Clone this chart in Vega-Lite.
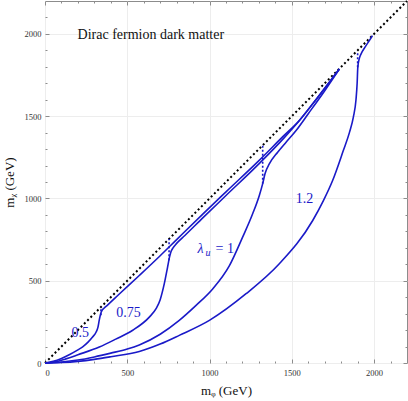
{
  "$schema": "https://vega.github.io/schema/vega-lite/v6.json",
  "width": 362,
  "height": 362,
  "autosize": {"type": "none"},
  "padding": {"left": 45, "top": 1, "right": 1, "bottom": 38},
  "config": {
    "font": "Liberation Serif",
    "view": {"stroke": "#8c8c8c", "strokeWidth": 1},
    "axis": {
      "domain": false,
      "tickColor": "#8c8c8c",
      "tickWidth": 1,
      "labelFont": "Liberation Serif",
      "labelFontSize": 8.5,
      "labelColor": "#333333",
      "titleFont": "Liberation Serif",
      "titleFontWeight": "normal",
      "titleFontSize": 13,
      "titleColor": "#111111",
      "gridColor": "#ededed"
    }
  },
  "datasets": {
    "diag": [{"x": 0, "y": 0}, {"x": 2200, "y": 2200}],
    "curves": [
      {"lam": "0.5", "o": 1, "x": 0, "y": 0},
      {"lam": "0.5", "o": 2, "x": 50, "y": 10},
      {"lam": "0.5", "o": 3, "x": 100, "y": 28},
      {"lam": "0.5", "o": 4, "x": 150, "y": 52},
      {"lam": "0.5", "o": 5, "x": 200, "y": 80},
      {"lam": "0.5", "o": 6, "x": 229, "y": 98},
      {"lam": "0.5", "o": 7, "x": 260, "y": 125},
      {"lam": "0.5", "o": 8, "x": 289, "y": 158},
      {"lam": "0.5", "o": 9, "x": 310, "y": 187},
      {"lam": "0.5", "o": 10, "x": 322, "y": 218},
      {"lam": "0.5", "o": 11, "x": 330, "y": 262},
      {"lam": "0.5", "o": 12, "x": 338, "y": 298},
      {"lam": "0.5", "o": 13, "x": 346, "y": 318},
      {"lam": "0.5", "o": 14, "x": 360, "y": 334},
      {"lam": "0.5", "o": 15, "x": 380, "y": 352},
      {"lam": "0.5", "o": 16, "x": 450, "y": 418},
      {"lam": "0.5", "o": 17, "x": 573, "y": 532},
      {"lam": "0.5", "o": 18, "x": 700, "y": 652},
      {"lam": "0.5", "o": 19, "x": 800, "y": 750},
      {"lam": "0.5", "o": 20, "x": 962, "y": 908},
      {"lam": "0.5", "o": 21, "x": 1100, "y": 1040},
      {"lam": "0.5", "o": 22, "x": 1300, "y": 1230},
      {"lam": "0.5", "o": 23, "x": 1450, "y": 1380},
      {"lam": "0.5", "o": 24, "x": 1546, "y": 1474},
      {"lam": "0.5", "o": 25, "x": 1650, "y": 1605},
      {"lam": "0.5", "o": 26, "x": 1789, "y": 1787},
      {"lam": "0.75", "o": 1, "x": 0, "y": 0},
      {"lam": "0.75", "o": 2, "x": 50, "y": 5},
      {"lam": "0.75", "o": 3, "x": 127, "y": 25},
      {"lam": "0.75", "o": 4, "x": 200, "y": 50},
      {"lam": "0.75", "o": 5, "x": 330, "y": 97},
      {"lam": "0.75", "o": 6, "x": 430, "y": 145},
      {"lam": "0.75", "o": 7, "x": 533, "y": 199},
      {"lam": "0.75", "o": 8, "x": 634, "y": 279},
      {"lam": "0.75", "o": 9, "x": 675, "y": 330},
      {"lam": "0.75", "o": 10, "x": 700, "y": 385},
      {"lam": "0.75", "o": 11, "x": 725, "y": 482},
      {"lam": "0.75", "o": 12, "x": 745, "y": 583},
      {"lam": "0.75", "o": 13, "x": 756, "y": 640},
      {"lam": "0.75", "o": 14, "x": 764, "y": 672},
      {"lam": "0.75", "o": 15, "x": 777, "y": 698},
      {"lam": "0.75", "o": 16, "x": 800, "y": 727},
      {"lam": "0.75", "o": 17, "x": 850, "y": 775},
      {"lam": "0.75", "o": 18, "x": 962, "y": 885},
      {"lam": "0.75", "o": 19, "x": 1100, "y": 1018},
      {"lam": "0.75", "o": 20, "x": 1300, "y": 1210},
      {"lam": "0.75", "o": 21, "x": 1450, "y": 1365},
      {"lam": "0.75", "o": 22, "x": 1546, "y": 1474},
      {"lam": "0.75", "o": 23, "x": 1650, "y": 1605},
      {"lam": "0.75", "o": 24, "x": 1789, "y": 1787},
      {"lam": "1", "o": 1, "x": 0, "y": 0},
      {"lam": "1", "o": 2, "x": 100, "y": 6},
      {"lam": "1", "o": 3, "x": 200, "y": 18},
      {"lam": "1", "o": 4, "x": 300, "y": 37},
      {"lam": "1", "o": 5, "x": 400, "y": 60},
      {"lam": "1", "o": 6, "x": 500, "y": 85},
      {"lam": "1", "o": 7, "x": 573, "y": 110},
      {"lam": "1", "o": 8, "x": 700, "y": 175},
      {"lam": "1", "o": 9, "x": 816, "y": 259},
      {"lam": "1", "o": 10, "x": 918, "y": 350},
      {"lam": "1", "o": 11, "x": 1019, "y": 450},
      {"lam": "1", "o": 12, "x": 1120, "y": 590},
      {"lam": "1", "o": 13, "x": 1201, "y": 765},
      {"lam": "1", "o": 14, "x": 1262, "y": 907},
      {"lam": "1", "o": 15, "x": 1303, "y": 1020},
      {"lam": "1", "o": 16, "x": 1323, "y": 1090},
      {"lam": "1", "o": 17, "x": 1337, "y": 1150},
      {"lam": "1", "o": 18, "x": 1364, "y": 1211},
      {"lam": "1", "o": 19, "x": 1414, "y": 1281},
      {"lam": "1", "o": 20, "x": 1465, "y": 1342},
      {"lam": "1", "o": 21, "x": 1526, "y": 1413},
      {"lam": "1", "o": 22, "x": 1600, "y": 1515},
      {"lam": "1", "o": 23, "x": 1700, "y": 1655},
      {"lam": "1", "o": 24, "x": 1789, "y": 1787},
      {"lam": "1.2", "o": 1, "x": 0, "y": 0},
      {"lam": "1.2", "o": 2, "x": 100, "y": 3},
      {"lam": "1.2", "o": 3, "x": 200, "y": 10},
      {"lam": "1.2", "o": 4, "x": 300, "y": 22},
      {"lam": "1.2", "o": 5, "x": 400, "y": 38},
      {"lam": "1.2", "o": 6, "x": 573, "y": 70},
      {"lam": "1.2", "o": 7, "x": 700, "y": 115},
      {"lam": "1.2", "o": 8, "x": 816, "y": 168},
      {"lam": "1.2", "o": 9, "x": 999, "y": 259},
      {"lam": "1.2", "o": 10, "x": 1222, "y": 421},
      {"lam": "1.2", "o": 11, "x": 1424, "y": 603},
      {"lam": "1.2", "o": 12, "x": 1627, "y": 866},
      {"lam": "1.2", "o": 13, "x": 1692, "y": 987},
      {"lam": "1.2", "o": 14, "x": 1748, "y": 1109},
      {"lam": "1.2", "o": 15, "x": 1813, "y": 1291},
      {"lam": "1.2", "o": 16, "x": 1850, "y": 1400},
      {"lam": "1.2", "o": 17, "x": 1874, "y": 1494},
      {"lam": "1.2", "o": 18, "x": 1890, "y": 1600},
      {"lam": "1.2", "o": 19, "x": 1897, "y": 1700},
      {"lam": "1.2", "o": 20, "x": 1901, "y": 1797},
      {"lam": "1.2", "o": 21, "x": 1910, "y": 1850},
      {"lam": "1.2", "o": 22, "x": 1921, "y": 1879},
      {"lam": "1.2", "o": 23, "x": 1945, "y": 1920},
      {"lam": "1.2", "o": 24, "x": 1971, "y": 1959},
      {"lam": "1.2", "o": 25, "x": 1990, "y": 1990}
    ],
    "dashes": [
      {"lam": "0.5", "x": 340, "y": 290},
      {"lam": "0.5", "x": 340, "y": 340},
      {"lam": "0.75", "x": 754, "y": 625},
      {"lam": "0.75", "x": 754, "y": 754},
      {"lam": "1", "x": 1323, "y": 1090},
      {"lam": "1", "x": 1323, "y": 1323},
      {"lam": "1.2", "x": 1900, "y": 1797},
      {"lam": "1.2", "x": 1900, "y": 1888}
    ],
    "labels": [
      {"text": "0.5", "x": 214, "y": 183},
      {"text": "0.75", "x": 507, "y": 301},
      {"text": "1.2", "x": 1577, "y": 997}
    ],
    "lamlabel": [{"x": 927, "y": 690}],
    "title": [{"text": "Dirac fermion dark matter", "x": 198, "y": 1968}]
  },
  "layer": [
    {
      "data": {"name": "diag"},
      "mark": {"type": "line", "color": "black", "strokeWidth": 2, "strokeDash": [2, 2.6]},
      "encoding": {
        "x": {"field": "x", "type": "quantitative", "scale": {"domain": [0, 2200], "nice": false},
          "axis": {"orient": "bottom", "values": [0, 500, 1000, 1500, 2000], "format": "d", "tickSize": -4, "labelPadding": 9, "grid": true, "title": "mᵩ (GeV)", "titlePadding": 8}},
        "y": {"field": "y", "type": "quantitative", "scale": {"domain": [0, 2200], "nice": false},
          "axis": {"orient": "left", "values": [0, 500, 1000, 1500, 2000], "format": "d", "tickSize": -4, "labelPadding": 8, "grid": true, "title": "mᵪ (GeV)", "titlePadding": 8}}
      }
    },
    {
      "data": {"name": "curves"},
      "mark": {"type": "line", "color": "#1a1ac8", "strokeWidth": 1.6, "interpolate": "monotone"},
      "encoding": {
        "x": {"field": "x", "type": "quantitative", "scale": {"domain": [0, 2200], "nice": false},
          "axis": {"orient": "bottom", "values": [100, 200, 300, 400, 600, 700, 800, 900, 1100, 1200, 1300, 1400, 1600, 1700, 1800, 1900, 2100], "tickSize": -2, "labels": false, "grid": false, "title": null}},
        "y": {"field": "y", "type": "quantitative", "scale": {"domain": [0, 2200], "nice": false},
          "axis": {"orient": "left", "values": [100, 200, 300, 400, 600, 700, 800, 900, 1100, 1200, 1300, 1400, 1600, 1700, 1800, 1900, 2100], "tickSize": -2, "labels": false, "grid": false, "title": null}},
        "detail": {"field": "lam"},
        "order": {"field": "o", "type": "quantitative"}
      }
    },
    {
      "data": {"name": "dashes"},
      "mark": {"type": "line", "color": "#1a1ac8", "strokeWidth": 1.6, "strokeDash": [2, 2]},
      "encoding": {
        "x": {"field": "x", "type": "quantitative", "scale": {"domain": [0, 2200], "nice": false},
          "axis": {"orient": "top", "values": [0, 500, 1000, 1500, 2000], "tickSize": -4, "labels": false, "grid": false, "title": null}},
        "y": {"field": "y", "type": "quantitative", "scale": {"domain": [0, 2200], "nice": false},
          "axis": {"orient": "right", "values": [0, 500, 1000, 1500, 2000], "tickSize": -4, "labels": false, "grid": false, "title": null}},
        "detail": {"field": "lam"}
      }
    },
    {
      "data": {"name": "labels"},
      "mark": {"type": "text", "color": "#1a1ac8", "fontSize": 14, "font": "Liberation Serif"},
      "encoding": {
        "x": {"field": "x", "type": "quantitative", "scale": {"domain": [0, 2200], "nice": false},
          "axis": {"orient": "top", "values": [100, 200, 300, 400, 600, 700, 800, 900, 1100, 1200, 1300, 1400, 1600, 1700, 1800, 1900, 2100], "tickSize": -2, "labels": false, "grid": false, "title": null}},
        "y": {"field": "y", "type": "quantitative", "scale": {"domain": [0, 2200], "nice": false},
          "axis": {"orient": "right", "values": [100, 200, 300, 400, 600, 700, 800, 900, 1100, 1200, 1300, 1400, 1600, 1700, 1800, 1900, 2100], "tickSize": -2, "labels": false, "grid": false, "title": null}},
        "text": {"field": "text"}
      }
    },
    {
      "data": {"name": "lamlabel"},
      "mark": {"type": "text", "color": "#1a1ac8", "fontSize": 14, "fontStyle": "italic", "font": "Liberation Serif", "align": "left", "text": "λ"},
      "encoding": {
        "x": {"field": "x", "type": "quantitative", "axis": null},
        "y": {"field": "y", "type": "quantitative", "axis": null}
      }
    },
    {
      "data": {"name": "lamlabel"},
      "mark": {"type": "text", "color": "#1a1ac8", "fontSize": 10, "fontStyle": "italic", "font": "Liberation Serif", "align": "left", "dx": 8, "dy": 4, "text": "u"},
      "encoding": {
        "x": {"field": "x", "type": "quantitative", "axis": null},
        "y": {"field": "y", "type": "quantitative", "axis": null}
      }
    },
    {
      "data": {"name": "lamlabel"},
      "mark": {"type": "text", "color": "#1a1ac8", "fontSize": 14, "font": "Liberation Serif", "align": "left", "dx": 18, "text": "= 1"},
      "encoding": {
        "x": {"field": "x", "type": "quantitative", "axis": null},
        "y": {"field": "y", "type": "quantitative", "axis": null}
      }
    },
    {
      "data": {"name": "title"},
      "mark": {"type": "text", "color": "#111111", "fontSize": 14, "font": "Liberation Serif", "align": "left", "baseline": "alphabetic"},
      "encoding": {
        "x": {"field": "x", "type": "quantitative", "axis": null},
        "y": {"field": "y", "type": "quantitative", "axis": null},
        "text": {"field": "text"}
      }
    }
  ],
  "resolve": {"axis": {"x": "independent", "y": "independent"}}
}
